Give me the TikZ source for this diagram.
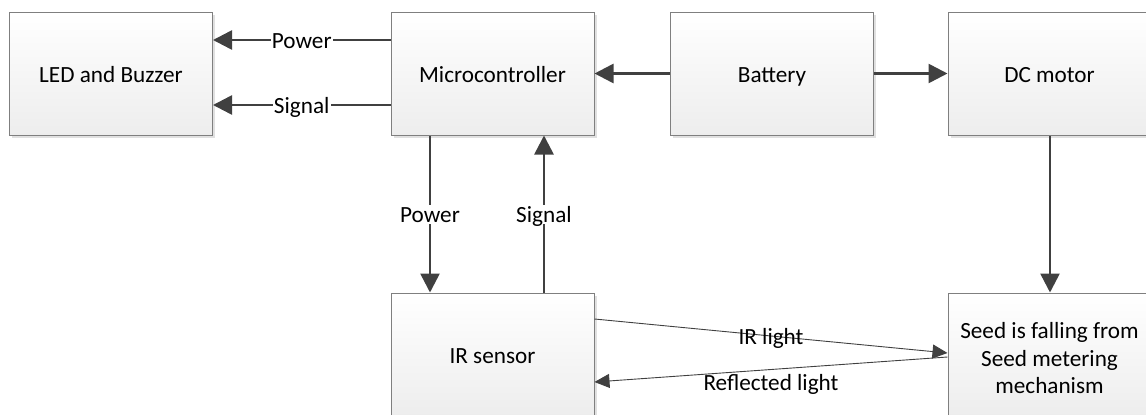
\documentclass[tikz,border=0pt]{standalone}
\usepackage{fontspec}
\setmainfont{Carlito}
\usetikzlibrary{arrows.meta,shadows}
\definecolor{boxline}{HTML}{7F7F7F}
\definecolor{arrowc}{HTML}{404040}
\begin{document}
\begin{tikzpicture}[x=1pt,y=1pt,
  base/.style={draw=boxline, line width=1pt, top color=white, bottom color=black!7,
    minimum width=203pt, minimum height=123pt, inner sep=0pt, align=center,
    font=\fontsize{23.2}{27.5}\selectfont,
    drop shadow={shadow xshift=2.5pt, shadow yshift=-2.5pt, fill=black!12, opacity=1}},
  blk/.style={base, text height=17pt, text depth=0pt},
  lbl/.style={font=\fontsize{23.2}{27}\selectfont, inner sep=1pt, text height=17pt, text depth=0pt},
  wlbl/.style={lbl, fill=white},
  thick arrow/.style={draw=arrowc, line width=2.6pt, -{Triangle[length=19pt,width=19pt]}},
  thin arrow/.style={draw=arrowc, line width=0.9pt, -{Triangle[length=15pt,width=14pt]}}]
\useasboundingbox (0,0) rectangle (1146,-415);
\clip (0,0) rectangle (1146,-415);
\node[blk] (led) at (111,-73.5) {LED and Buzzer};
\node[blk] (mcu) at (492.5,-73.5) {Microcontroller};
\node[blk] (bat) at (772,-73.5) {Battery};
\node[blk] (dc) at (1049.5,-73.5) {DC motor};
\node[blk] (ir) at (492.5,-354.5) {IR sensor};
\node[base] (seed) at (1049.5,-354.5) {\rule{0pt}{24pt}Seed is falling from\\Seed metering\\mechanism};

\draw[thick arrow] ([yshift=33.5pt]mcu.west) -- node[wlbl]{Power} ([yshift=33.5pt]led.east);
\draw[thick arrow] ([yshift=-31.5pt]mcu.west) -- node[wlbl]{Signal} ([yshift=-31.5pt]led.east);
\draw[thick arrow] (bat.west) -- (mcu.east);
\draw[thick arrow] (bat.east) -- (dc.west);
\draw[thick arrow] ([xshift=-62.5pt]mcu.south) -- node[wlbl]{Power} ([xshift=-62.5pt]ir.north);
\draw[thick arrow] ([xshift=51.5pt]ir.north) -- node[wlbl]{Signal} ([xshift=51.5pt]mcu.south);
\draw[thick arrow] ([xshift=0.5pt]dc.south) -- ([xshift=0.5pt]seed.north);
\draw[thin arrow] ([yshift=35.5pt]ir.east) -- node[lbl, pos=0.5]{IR light} ([yshift=1.5pt]seed.west);
\draw[thin arrow] ([yshift=-2.5pt]seed.west) -- node[lbl, pos=0.5, below=3pt]{Reflected light} ([yshift=-27.5pt]ir.east);
\end{tikzpicture}
\end{document}
